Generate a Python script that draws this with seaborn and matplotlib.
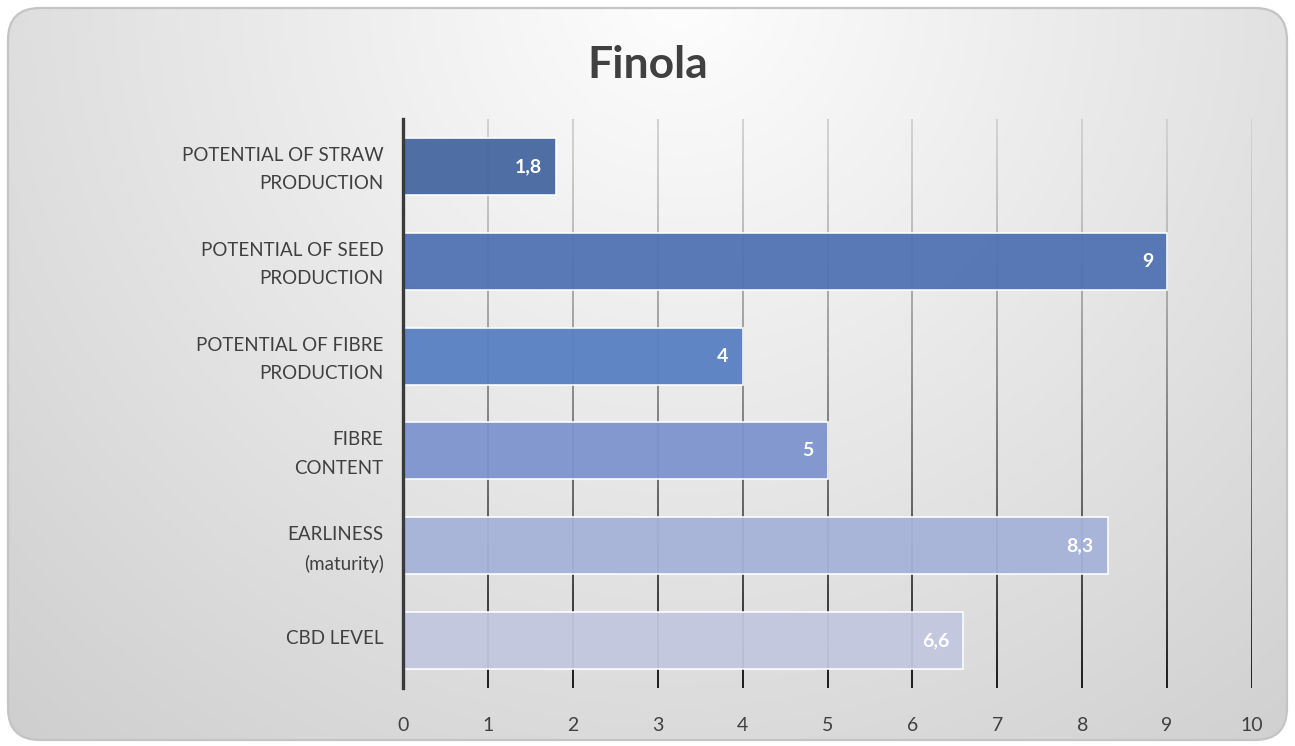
import numpy as np
import pandas as pd
import matplotlib
matplotlib.use("Agg")
import matplotlib.pyplot as plt
import seaborn as sns
from matplotlib.patches import FancyBboxPatch
from matplotlib.collections import LineCollection
import matplotlib.transforms as mtransforms

categories = [
    "POTENTIAL OF STRAW\nPRODUCTION",
    "POTENTIAL OF SEED\nPRODUCTION",
    "POTENTIAL OF FIBRE\nPRODUCTION",
    "FIBRE\nCONTENT",
    "EARLINESS\n(maturity)",
    "CBD LEVEL",
]
values = [1.8, 9, 4, 5, 8.3, 6.6]
bar_colors = ["#46679f", "#5072b3", "#5880c3", "#7e94cd", "#a6b3d8", "#c2c7e0"]
x_ticks = [0, 1, 2, 3, 4, 5, 6, 7, 8, 9, 10]
title = "Finola"

sns.set_theme(style="white")
plt.rcParams["font.family"] = ["Lato", "DejaVu Sans"]

W, H = 1295, 746
fig = plt.figure(figsize=(W / 100, H / 100), dpi=100, facecolor="white")

# background panel with gradient and rounded border
bg = fig.add_axes([0, 0, 1, 1], zorder=-10)
bg.set_xlim(0, W)
bg.set_ylim(H, 0)
bg.axis("off")
yy, xx = np.mgrid[0:H:2, 0:W:2]
d = np.sqrt((xx - 680.0) ** 2 + (yy + 10.0) ** 2) / 1000.0
b = np.clip(0.995 - 0.185 * d, 0, 1)
img = np.dstack([b, b, b])
im = bg.imshow(img, extent=[0, W, H, 0], aspect="auto", interpolation="bilinear")
panel = FancyBboxPatch((8, 8), W - 16, H - 14,
                       boxstyle="round,pad=0,rounding_size=32",
                       transform=bg.transData, fc="none", ec="#c4c4c4", lw=1.6)
bg.add_patch(panel)
im.set_clip_path(panel)

# main axes
left, right = 403 / W, 1252 / W
bottom, top = 1 - 688 / H, 1 - 119 / H
ax = fig.add_axes([left, bottom, right - left, top - bottom])
ax.patch.set_alpha(0)

df = pd.DataFrame({"cat": categories, "val": values})
sns.barplot(data=df, x="val", y="cat", hue="cat", palette=bar_colors,
            orient="h", width=0.6, edgecolor="white", linewidth=1.2,
            saturation=1, alpha=0.95, legend=False, ax=ax, zorder=2)

ax.set_xlim(0, 10)
ax.set_ylim(len(categories) - 0.5, -0.5)

# gradient vertical gridlines
trans = mtransforms.blended_transform_factory(ax.transData, ax.transAxes)
nseg = 60
segs, cols = [], []
for xv in x_ticks[1:]:
    for i in range(nseg):
        y0 = 1 - i / nseg
        y1 = 1 - (i + 1) / nseg
        segs.append([(xv, y0), (xv, y1)])
        t = (i + 0.5) / nseg
        g = 0.82 - 0.72 * t ** 1.3
        cols.append((g, g, g))
lc = LineCollection(segs, colors=cols, linewidths=1.4, transform=trans, zorder=1)
ax.add_collection(lc)

# value labels
for i, v in enumerate(values):
    lbl = f"{v:g}".replace(".", ",")
    ax.annotate(lbl, xy=(v, i), xytext=(-10, 0), textcoords="offset points",
                ha="right", va="center", color="white", fontsize=14,
                fontweight="bold")

ax.set_xticks(x_ticks)
ax.set_xticklabels([str(t) for t in x_ticks])
ax.tick_params(axis="x", length=0, pad=21, labelsize=14, labelcolor="#404040")
ax.tick_params(axis="y", length=0, pad=14, labelsize=13.5, labelcolor="#404040")
shift = mtransforms.ScaledTranslation(0, 4 / 100, fig.dpi_scale_trans)
for lab in ax.get_yticklabels():
    lab.set_linespacing(1.8)
    lab.set_ha("right")
    lab.set_transform(lab.get_transform() + shift)
ax.set_xlabel("")
ax.set_ylabel("")
for s in ["top", "right", "bottom"]:
    ax.spines[s].set_visible(False)
ax.spines["left"].set_color("#3a3a3a")
ax.spines["left"].set_linewidth(2.4)
ax.spines["left"].set_zorder(3)

fig.text(648 / W, 1 - 65 / H, title, ha="center", va="center",
         fontsize=32, fontweight="bold", color="#404040")

fig.savefig("out.png", dpi=100, facecolor="white")
